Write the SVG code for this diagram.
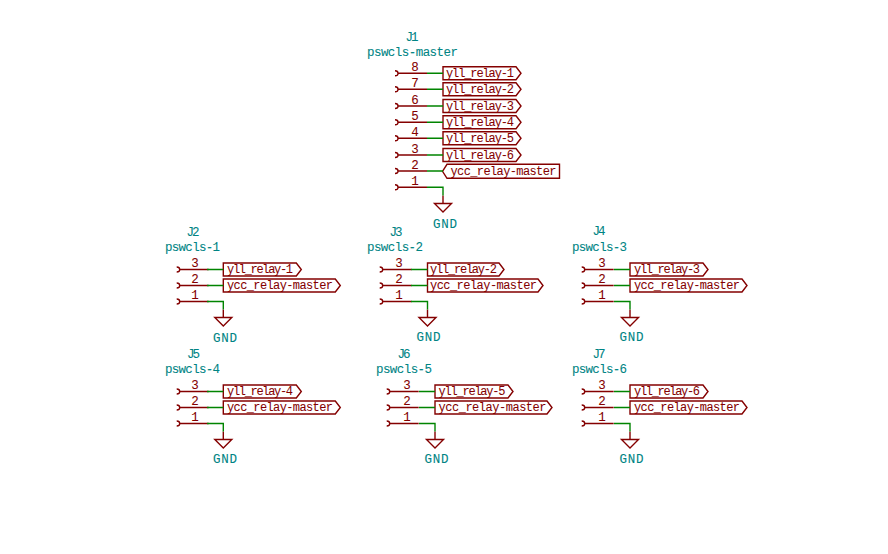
<svg xmlns="http://www.w3.org/2000/svg" xmlns:xlink="http://www.w3.org/1999/xlink" width="888" height="554" viewBox="0 0 888 554">
<style>
text{font-family:"Liberation Mono","DejaVu Sans Mono",monospace}
.s{fill:none;stroke:#840000;stroke-width:1.4}
.w{fill:none;stroke:#008400;stroke-width:1.4}
.t{fill:#008484;stroke:#008484;stroke-width:.08;font-size:12.500px}
.g{text-anchor:middle}
.n{fill:#840000;stroke:#840000;stroke-width:.08;font-size:12.500px;text-anchor:middle}
.l{fill:#840000;stroke:#840000;stroke-width:.05;font-size:12px}
</style>
<defs>
<path id="pin" class="s" d="M-1 -2.500Q2 -2.500 2 0Q2 2.500 -1 2.500M2 0H31"/>
<path id="gnd" class="s" d="M0 -8V0M-8.500 0H8.500L0 8.500Z"/>
<path id="fs" class="s" d="M0 -6.500H73L78 0L73 6.500H0Z"/>
<path id="fs3" class="s" d="M0 -6.500H71.500L76.500 0L71.500 6.500H0Z"/>
<path id="fm" class="s" d="M0 -6.500H112L117 0L112 6.500H0Z"/>
<path id="fm3" class="s" d="M0 -6.500H110.500L115.500 0L110.500 6.500H0Z"/>
<path id="fi" class="s" d="M0 0L4.500 -7H117V7H4.500Z"/>
</defs>
<rect width="888" height="554" fill="#fff"/>
<g id="J1">
<text class="t g" x="412" y="41" textLength="13">J1</text>
<text class="t" x="367" y="55.500" textLength="91">pswcls-master</text>
<use xlink:href="#pin" x="396" y="73.300"/><text class="n" x="415" y="71">8</text>
<use xlink:href="#pin" x="396" y="89.300"/><text class="n" x="415" y="87">7</text>
<use xlink:href="#pin" x="396" y="106"/><text class="n" x="415" y="103.500">6</text>
<use xlink:href="#pin" x="396" y="122.300"/><text class="n" x="415" y="120">5</text>
<use xlink:href="#pin" x="396" y="138.300"/><text class="n" x="415" y="136">4</text>
<use xlink:href="#pin" x="396" y="155"/><text class="n" x="415" y="152.500">3</text>
<use xlink:href="#pin" x="396" y="171"/><text class="n" x="415" y="168.500">2</text>
<use xlink:href="#pin" x="396" y="187.300"/><text class="n" x="415" y="185">1</text>
<use xlink:href="#fs" x="443" y="73.300"/><text class="l" x="446" y="77" textLength="68">yll_relay-1</text>
<use xlink:href="#fs" x="443" y="89.300"/><text class="l" x="446" y="93" textLength="68">yll_relay-2</text>
<use xlink:href="#fs" x="443" y="106"/><text class="l" x="446" y="109.700" textLength="68">yll_relay-3</text>
<use xlink:href="#fs" x="443" y="122.300"/><text class="l" x="446" y="126" textLength="68">yll_relay-4</text>
<use xlink:href="#fs" x="443" y="138.300"/><text class="l" x="446" y="142" textLength="68">yll_relay-5</text>
<use xlink:href="#fs" x="443" y="155"/><text class="l" x="446" y="158.700" textLength="68">yll_relay-6</text>
<use xlink:href="#fi" x="442.500" y="171.300"/><text class="l" x="450.500" y="175" textLength="106">ycc_relay-master</text>
</g>
<g id="GND1"><use xlink:href="#gnd" x="443" y="203.500"/><text class="t g" x="445" y="227.500" textLength="24">GND</text></g>
<g id="J2">
<text class="t g" x="193" y="236" textLength="13">J2</text>
<text class="t" x="165" y="251" textLength="55">pswcls-1</text>
<use xlink:href="#pin" x="177.700" y="269.500"/><text class="n" x="195" y="266.500">3</text>
<use xlink:href="#pin" x="177.700" y="285.500"/><text class="n" x="195" y="282.500">2</text>
<use xlink:href="#pin" x="177.700" y="301.500"/><text class="n" x="195" y="298.500">1</text>
<use xlink:href="#fs" x="223.300" y="269.500"/><text class="l" x="227" y="273.200" textLength="66">yll_relay-1</text>
<use xlink:href="#fm" x="223.300" y="285.500"/><text class="l" x="227" y="289.200" textLength="106">ycc_relay-master</text>
</g>
<g id="GND2"><use xlink:href="#gnd" x="223.300" y="317.500"/><text class="t g" x="225" y="341.500" textLength="24">GND</text></g>
<g id="J3">
<text class="t g" x="396" y="236" textLength="13">J3</text>
<text class="t" x="367" y="251" textLength="56">pswcls-2</text>
<use xlink:href="#pin" x="380.700" y="269.500"/><text class="n" x="399" y="266.500">3</text>
<use xlink:href="#pin" x="380.700" y="285.500"/><text class="n" x="399" y="282.500">2</text>
<use xlink:href="#pin" x="380.700" y="301.500"/><text class="n" x="399" y="298.500">1</text>
<use xlink:href="#fs3" x="427.500" y="269.500"/><text class="l" x="430" y="273.200" textLength="67">yll_relay-2</text>
<use xlink:href="#fm3" x="427.500" y="285.500"/><text class="l" x="430" y="289.200" textLength="107">ycc_relay-master</text>
</g>
<g id="GND3"><use xlink:href="#gnd" x="427.500" y="317.500"/><text class="t g" x="428.500" y="341" textLength="24">GND</text></g>
<g id="J4">
<text class="t g" x="599" y="235" textLength="13">J4</text>
<text class="t" x="572" y="251" textLength="55">pswcls-3</text>
<use xlink:href="#pin" x="582.700" y="269.500"/><text class="n" x="602" y="266.500">3</text>
<use xlink:href="#pin" x="582.700" y="285.500"/><text class="n" x="602" y="282.500">2</text>
<use xlink:href="#pin" x="582.700" y="301.500"/><text class="n" x="602" y="298.500">1</text>
<use xlink:href="#fs" x="630" y="269.500"/><text class="l" x="634" y="273.200" textLength="66">yll_relay-3</text>
<use xlink:href="#fm" x="630" y="285.500"/><text class="l" x="634" y="289.200" textLength="106">ycc_relay-master</text>
</g>
<g id="GND4"><use xlink:href="#gnd" x="630" y="317.500"/><text class="t g" x="631.500" y="341" textLength="24">GND</text></g>
<g id="J5">
<text class="t g" x="193.500" y="358" textLength="13">J5</text>
<text class="t" x="165" y="373" textLength="55">pswcls-4</text>
<use xlink:href="#pin" x="177.700" y="391.500"/><text class="n" x="195" y="388.500">3</text>
<use xlink:href="#pin" x="177.700" y="407.500"/><text class="n" x="195" y="404.500">2</text>
<use xlink:href="#pin" x="177.700" y="423.500"/><text class="n" x="195" y="420.500">1</text>
<use xlink:href="#fs" x="223.300" y="391.500"/><text class="l" x="227" y="395.200" textLength="66">yll_relay-4</text>
<use xlink:href="#fm" x="223.300" y="407.500"/><text class="l" x="227" y="411.200" textLength="106">ycc_relay-master</text>
</g>
<g id="GND5"><use xlink:href="#gnd" x="223.300" y="439.500"/><text class="t g" x="225" y="463" textLength="24">GND</text></g>
<g id="J6">
<text class="t g" x="404" y="358" textLength="13">J6</text>
<text class="t" x="376" y="373" textLength="56">pswcls-5</text>
<use xlink:href="#pin" x="387.700" y="391.500"/><text class="n" x="407" y="388.500">3</text>
<use xlink:href="#pin" x="387.700" y="407.500"/><text class="n" x="407" y="404.500">2</text>
<use xlink:href="#pin" x="387.700" y="423.500"/><text class="n" x="407" y="420.500">1</text>
<use xlink:href="#fs" x="435" y="391.500"/><text class="l" x="438.500" y="395.200" textLength="67">yll_relay-5</text>
<use xlink:href="#fm" x="435" y="407.500"/><text class="l" x="438.500" y="411.200" textLength="108">ycc_relay-master</text>
</g>
<g id="GND6"><use xlink:href="#gnd" x="435" y="439.500"/><text class="t g" x="436.500" y="463" textLength="24">GND</text></g>
<g id="J7">
<text class="t g" x="599" y="358" textLength="13">J7</text>
<text class="t" x="572" y="373" textLength="55">pswcls-6</text>
<use xlink:href="#pin" x="582.700" y="391.500"/><text class="n" x="602" y="388.500">3</text>
<use xlink:href="#pin" x="582.700" y="407.500"/><text class="n" x="602" y="404.500">2</text>
<use xlink:href="#pin" x="582.700" y="423.500"/><text class="n" x="602" y="420.500">1</text>
<use xlink:href="#fs" x="630" y="391.500"/><text class="l" x="634" y="395.200" textLength="66">yll_relay-6</text>
<use xlink:href="#fm" x="630" y="407.500"/><text class="l" x="634" y="411.200" textLength="106">ycc_relay-master</text>
</g>
<g id="GND7"><use xlink:href="#gnd" x="630" y="439.500"/><text class="t g" x="631.500" y="463" textLength="24">GND</text></g>
<g id="connectors">
<path class="w" d="M427 73.300H443M427 89.300H443M427 106H443M427 122.300H443M427 138.300H443M427 155H443M427 171H443M427 187.300H443V195.500"/>
<path class="w" d="M207 269.500H223.300M207 285.500H223.300M207 301.500H223.300V309.500"/>
<path class="w" d="M411 269.500H427.500M411 285.500H427.500M411 301.500H427.500V309.500"/>
<path class="w" d="M614 269.500H630M614 285.500H630M614 301.500H630V309.500"/>
<path class="w" d="M207 391.500H223.300M207 407.500H223.300M207 423.500H223.300V431.500"/>
<path class="w" d="M419 391.500H435M419 407.500H435M419 423.500H435V431.500"/>
<path class="w" d="M614 391.500H630M614 407.500H630M614 423.500H630V431.500"/>
</g>
</svg>
